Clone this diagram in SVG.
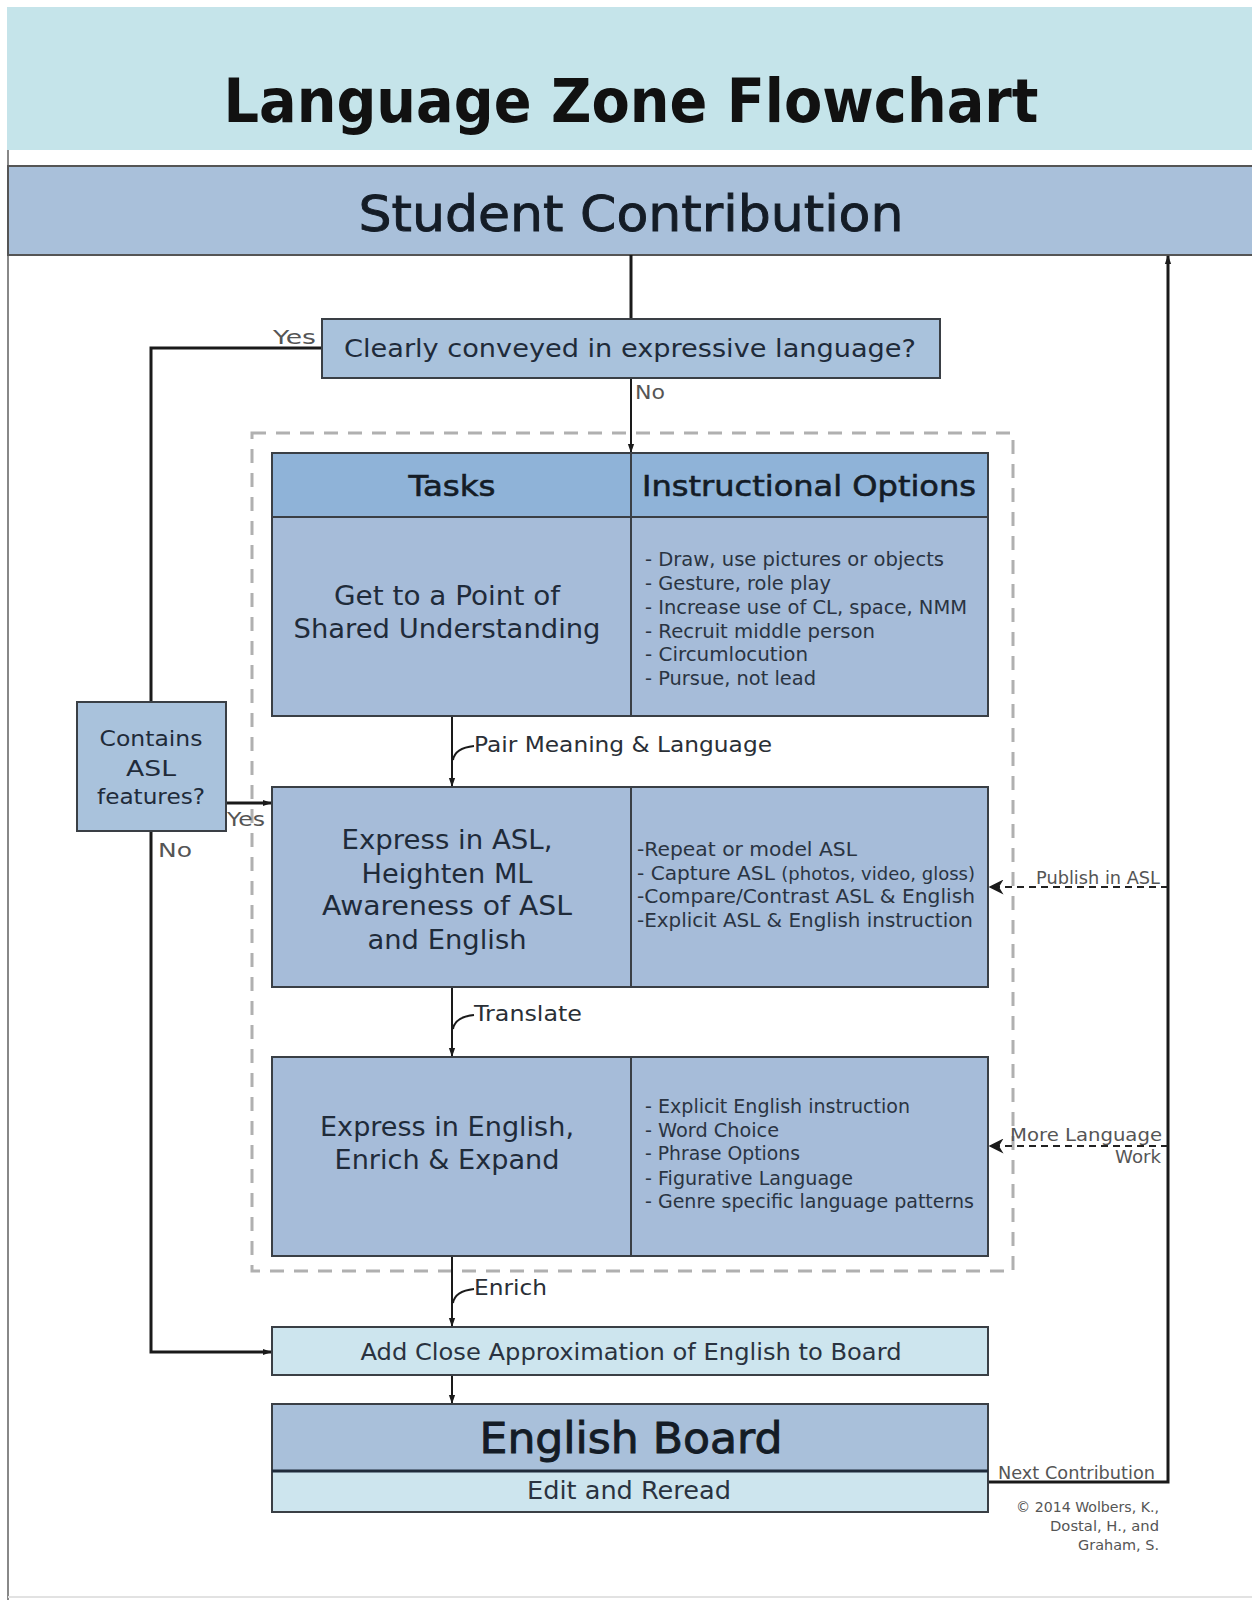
<svg xmlns="http://www.w3.org/2000/svg" width="1252" height="1600" viewBox="0 0 1252 1600">
<defs>
<style>
text{font-family:"DejaVu Sans","Liberation Sans",sans-serif;fill:#1f2b3a}
.box{stroke:#3a3f45;stroke-width:2}
.mid{fill:#a6bcd9}
.hdr{fill:#8fb3d8}
.lite{fill:#cde5ee}
.dec{fill:#a9c2dc}
.lbl{fill:#555;font-size:20px}
.conn{stroke:#1a1a1a;stroke-width:3;fill:none}
.thin{stroke:#1a1a1a;stroke-width:2;fill:none}
.dash{stroke:#222;stroke-width:2;fill:none;stroke-dasharray:7 5}
.list{font-size:19px;fill:#2a3442}
.cell{font-size:26px}
.small{font-size:17px;fill:#555}
.heavy{stroke:#141c26;stroke-width:0.9px}
</style>
<marker id="ah" viewBox="0 0 10 10" refX="9" refY="5" markerWidth="9" markerHeight="9" orient="auto" markerUnits="userSpaceOnUse">
<path d="M0,1.5 L10,5 L0,8.5 z" fill="#1a1a1a"/>
</marker>
<marker id="ah2" viewBox="0 0 10 10" refX="9" refY="5" markerWidth="15" markerHeight="15" orient="auto" markerUnits="userSpaceOnUse">
<path d="M0,0 L10,5 L0,10 L3,5 z" fill="#1a1a1a"/>
</marker>
</defs>
<rect width="1252" height="1600" fill="#ffffff"/>
<g id="banner">
<rect x="7" y="7" width="1245" height="143" fill="#c5e4ea"/>
<text x="631" y="122" font-size="60" font-weight="bold" text-anchor="middle" textLength="815" lengthAdjust="spacingAndGlyphs" style="fill:#111">Language Zone Flowchart</text>
</g>
<line x1="8" y1="150" x2="8" y2="1600" stroke="#888" stroke-width="2"/>
<line x1="8" y1="1597" x2="1252" y2="1597" stroke="#e2e2e2" stroke-width="2"/>
<g id="student-contribution">
<rect x="8" y="166" width="1250" height="89" fill="#a9c0da" stroke="#555" stroke-width="2"/>
<text class="heavy" x="631" y="231" font-size="50" text-anchor="middle" textLength="545" lengthAdjust="spacingAndGlyphs" style="fill:#141c26">Student Contribution</text>
</g>
<g id="zone">
<rect x="252" y="433" width="761" height="838" fill="none" stroke="#b0b0b0" stroke-width="3" stroke-dasharray="14 10"/>
</g>
<g id="connectors">
<line class="conn" x1="631" y1="255" x2="631" y2="319"/>
<line class="thin" x1="631" y1="378" x2="631" y2="452" marker-end="url(#ah)"/>
<polyline class="conn" points="322,348 151,348 151,702"/>
<polyline class="conn" points="151,831 151,1352 271,1352" marker-end="url(#ah)"/>
<line class="conn" x1="226" y1="803" x2="271" y2="803" marker-end="url(#ah)"/>
<line class="thin" x1="452" y1="716" x2="452" y2="786" marker-end="url(#ah)"/>
<line class="thin" x1="452" y1="987" x2="452" y2="1056" marker-end="url(#ah)"/>
<line class="thin" x1="452" y1="1256" x2="452" y2="1326" marker-end="url(#ah)"/>
<line class="thin" x1="452" y1="1375" x2="452" y2="1403" marker-end="url(#ah)"/>
<polyline class="conn" points="988,1482 1168,1482 1168,256" marker-end="url(#ah)"/>
<line class="dash" x1="1168" y1="887" x2="990" y2="887" marker-end="url(#ah2)"/>
<line class="dash" x1="1168" y1="1146" x2="990" y2="1146" marker-end="url(#ah2)"/>
<path class="thin" stroke-width="1.5" d="M453,760 Q455,748 474,746"/>
<path class="thin" stroke-width="1.5" d="M453,1029 Q455,1017 474,1015"/>
<path class="thin" stroke-width="1.5" d="M453,1303 Q455,1291 474,1289"/>
<text class="lbl" x="273" y="344" textLength="43" lengthAdjust="spacingAndGlyphs">Yes</text>
<text class="lbl" x="635" y="399" textLength="30" lengthAdjust="spacingAndGlyphs">No</text>
<text class="lbl" x="227" y="826" textLength="38" lengthAdjust="spacingAndGlyphs">Yes</text>
<text class="lbl" x="158" y="857" textLength="34" lengthAdjust="spacingAndGlyphs">No</text>
<text x="474" y="752" font-size="22" textLength="298" lengthAdjust="spacingAndGlyphs" style="fill:#2a2f36">Pair Meaning &amp; Language</text>
<text x="474" y="1021" font-size="22" textLength="108" lengthAdjust="spacingAndGlyphs" style="fill:#2a2f36">Translate</text>
<text x="474" y="1295" font-size="22" textLength="73" lengthAdjust="spacingAndGlyphs" style="fill:#2a2f36">Enrich</text>
<text class="small" x="1160" y="884" text-anchor="end" textLength="124" lengthAdjust="spacingAndGlyphs">Publish in ASL</text>
<text class="small" x="1162" y="1141" text-anchor="end" textLength="152" lengthAdjust="spacingAndGlyphs">More Language</text>
<text class="small" x="1161" y="1163" text-anchor="end" textLength="46" lengthAdjust="spacingAndGlyphs">Work</text>
<text class="small" x="998" y="1479" textLength="157" lengthAdjust="spacingAndGlyphs">Next Contribution</text>
</g>
<g id="decision-expressive">
<rect class="box dec" x="322" y="319" width="618" height="59"/>
<text x="630" y="357" font-size="25" text-anchor="middle" textLength="572" lengthAdjust="spacingAndGlyphs">Clearly conveyed in expressive language?</text>
</g>
<g id="decision-asl">
<rect class="box dec" x="77" y="702" width="149" height="129"/>
<text x="151" y="746" font-size="22" text-anchor="middle" textLength="103" lengthAdjust="spacingAndGlyphs">Contains</text>
<text x="151" y="776" font-size="22" text-anchor="middle" textLength="50" lengthAdjust="spacingAndGlyphs">ASL</text>
<text x="151" y="804" font-size="22" text-anchor="middle" textLength="108" lengthAdjust="spacingAndGlyphs">features?</text>
</g>
<g id="table-header">
<rect class="box hdr" x="272" y="453" width="716" height="64"/>
<line x1="631" y1="453" x2="631" y2="517" stroke="#3a3f45" stroke-width="2"/>
<text class="heavy" x="452" y="496" font-size="29" text-anchor="middle" textLength="87" lengthAdjust="spacingAndGlyphs" style="fill:#141c26;stroke-width:0.6px">Tasks</text>
<text class="heavy" x="809" y="496" font-size="29" text-anchor="middle" textLength="334" lengthAdjust="spacingAndGlyphs" style="fill:#141c26;stroke-width:0.6px">Instructional Options</text>
</g>
<g id="row-shared-understanding">
<rect class="box mid" x="272" y="517" width="716" height="199"/>
<line x1="631" y1="517" x2="631" y2="716" stroke="#3a3f45" stroke-width="2"/>
<text class="cell" x="447" y="605" text-anchor="middle" textLength="226" lengthAdjust="spacingAndGlyphs">Get to a Point of</text>
<text class="cell" x="447" y="638" text-anchor="middle" textLength="307" lengthAdjust="spacingAndGlyphs">Shared Understanding</text>
<text class="list" x="645" y="566" textLength="299" lengthAdjust="spacingAndGlyphs">- Draw, use pictures or objects</text>
<text class="list" x="645" y="590" textLength="186" lengthAdjust="spacingAndGlyphs">- Gesture, role play</text>
<text class="list" x="645" y="614" textLength="322" lengthAdjust="spacingAndGlyphs">- Increase use of CL, space, NMM</text>
<text class="list" x="645" y="638" textLength="230" lengthAdjust="spacingAndGlyphs">- Recruit middle person</text>
<text class="list" x="645" y="661" textLength="163" lengthAdjust="spacingAndGlyphs">- Circumlocution</text>
<text class="list" x="645" y="685" textLength="171" lengthAdjust="spacingAndGlyphs">- Pursue, not lead</text>
</g>
<g id="row-express-asl">
<rect class="box mid" x="272" y="787" width="716" height="200"/>
<line x1="631" y1="787" x2="631" y2="987" stroke="#3a3f45" stroke-width="2"/>
<text class="cell" x="447" y="849" text-anchor="middle" textLength="211" lengthAdjust="spacingAndGlyphs">Express in ASL,</text>
<text class="cell" x="447" y="883" text-anchor="middle" textLength="171" lengthAdjust="spacingAndGlyphs">Heighten ML</text>
<text class="cell" x="447" y="915" text-anchor="middle" textLength="250" lengthAdjust="spacingAndGlyphs">Awareness of ASL</text>
<text class="cell" x="447" y="949" text-anchor="middle" textLength="159" lengthAdjust="spacingAndGlyphs">and English</text>
<text class="list" x="637" y="856" textLength="220" lengthAdjust="spacingAndGlyphs">-Repeat or model ASL</text>
<text class="list" x="637" y="880" textLength="338" lengthAdjust="spacingAndGlyphs">- Capture ASL <tspan font-size="17">(photos, video, gloss)</tspan></text>
<text class="list" x="637" y="903" textLength="338" lengthAdjust="spacingAndGlyphs">-Compare/Contrast ASL &amp; English</text>
<text class="list" x="637" y="927" textLength="336" lengthAdjust="spacingAndGlyphs">-Explicit ASL &amp; English instruction</text>
</g>
<g id="row-express-english">
<rect class="box mid" x="272" y="1057" width="716" height="199"/>
<line x1="631" y1="1057" x2="631" y2="1256" stroke="#3a3f45" stroke-width="2"/>
<text class="cell" x="447" y="1136" text-anchor="middle" textLength="254" lengthAdjust="spacingAndGlyphs">Express in English,</text>
<text class="cell" x="447" y="1169" text-anchor="middle" textLength="225" lengthAdjust="spacingAndGlyphs">Enrich &amp; Expand</text>
<text class="list" x="645" y="1113" textLength="265" lengthAdjust="spacingAndGlyphs">- Explicit English instruction</text>
<text class="list" x="645" y="1137" textLength="134" lengthAdjust="spacingAndGlyphs">- Word Choice</text>
<text class="list" x="645" y="1160" textLength="155" lengthAdjust="spacingAndGlyphs">- Phrase Options</text>
<text class="list" x="645" y="1185" textLength="208" lengthAdjust="spacingAndGlyphs">- Figurative Language</text>
<text class="list" x="645" y="1208" textLength="329" lengthAdjust="spacingAndGlyphs">- Genre specific language patterns</text>
</g>
<g id="add-approximation">
<rect class="box lite" x="272" y="1327" width="716" height="48"/>
<text x="631" y="1360" font-size="23" text-anchor="middle" textLength="541" lengthAdjust="spacingAndGlyphs" style="fill:#2a3340">Add Close Approximation of English to Board</text>
</g>
<g id="english-board">
<rect class="box" x="272" y="1404" width="716" height="67" fill="#a9c0da"/>
<rect class="box lite" x="272" y="1471" width="716" height="41"/>
<line x1="272" y1="1471" x2="988" y2="1471" stroke="#1f2b3a" stroke-width="3"/>
<text class="heavy" x="631" y="1453" font-size="42" text-anchor="middle" textLength="303" lengthAdjust="spacingAndGlyphs" style="fill:#141c26">English Board</text>
<text x="629" y="1499" font-size="24" text-anchor="middle" textLength="204" lengthAdjust="spacingAndGlyphs" style="fill:#2a3340">Edit and Reread</text>
</g>
<g id="copyright">
<text x="1159" y="1512" font-size="14" text-anchor="end" textLength="143" lengthAdjust="spacingAndGlyphs" style="fill:#555">© 2014 Wolbers, K.,</text>
<text x="1159" y="1531" font-size="14" text-anchor="end" textLength="109" lengthAdjust="spacingAndGlyphs" style="fill:#555">Dostal, H., and</text>
<text x="1159" y="1550" font-size="14" text-anchor="end" textLength="81" lengthAdjust="spacingAndGlyphs" style="fill:#555">Graham, S.</text>
</g>
</svg>
